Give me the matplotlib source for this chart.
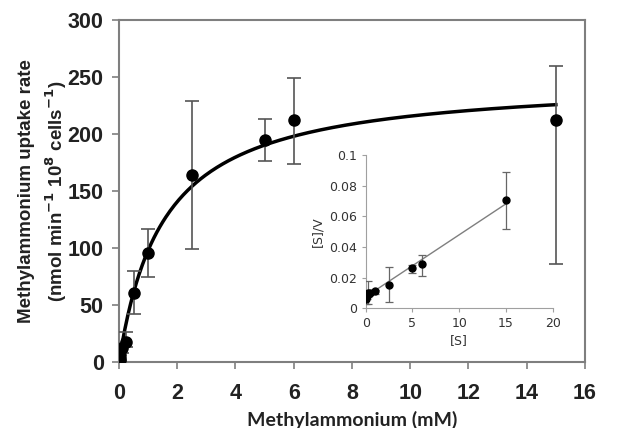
import matplotlib.pyplot as plt
import numpy as np

# Michaelis-Menten data (main panel)
conc = [0, 0.02, 0.05, 0.1, 0.25, 0.5, 1, 2.5, 5, 6, 15]
rate = [0, 2, 6, 12, 18, 61, 96, 164, 195, 212, 212]
rate_lo = [0, 1, 3, 4, 5, 19, 21, 65, 19, 38, 126]
rate_hi = [0, 2, 4, 5, 8, 19, 21, 65, 18, 37, 48]

# fitted parameters
vmax = 249
km = 1.54

# Hanes-Woolf inset data
s_inset = [0.02, 0.05, 0.1, 0.2, 0.25, 0.5, 1, 2.5, 5, 6, 15]
sv = [0.009, 0.006, 0.008, 0.010, 0.009, 0.010, 0.011, 0.015, 0.026, 0.029, 0.071]
sv_lo = [0.003, 0.003, 0.002, 0.007, 0.002, 0.001, 0.002, 0.011, 0.003, 0.008, 0.019]
sv_hi = [0.003, 0.003, 0.002, 0.008, 0.002, 0.001, 0.001, 0.012, 0.002, 0.006, 0.018]
fit_intercept = 0.0075
fit_slope = 0.00405

fig = plt.figure(figsize=(6.23, 4.28), dpi=100)
ax = fig.add_axes([0.191, 0.154, 0.748, 0.799])

xs = np.linspace(0, 15, 300)
ax.plot(xs, vmax * xs / (km + xs), color="black", lw=2.5, zorder=2)
ax.errorbar(conc, rate, yerr=[rate_lo, rate_hi], fmt="o", color="black",
            ms=8, ecolor="#555555", elinewidth=1.2, capsize=5, capthick=1.2, zorder=3)

ax.set_xlim(0, 16)
ax.set_ylim(0, 300)
ax.set_xticks(range(0, 17, 2))
ax.set_yticks(range(0, 301, 50))
for s in ax.spines.values():
    s.set_color("#7f7f7f")
    s.set_linewidth(1.5)
ax.tick_params(direction="out", length=5, width=1.2, color="#7f7f7f",
               labelsize=15.5, labelcolor="#222222")
ax.tick_params(axis="x", pad=10)
ax.tick_params(axis="y", pad=6)
for lab in ax.get_xticklabels() + ax.get_yticklabels():
    lab.set_fontfamily("Liberation Sans")
    lab.set_fontweight("bold")

fig.text(0.566, 0.018, "Methylammonium (mM)", fontsize=14, fontweight="bold",
         family="Lato", color="#222222", ha="center", va="center")
fig.text(0.070, 0.554,
         "Methylammonium uptake rate\n(nmol min$^{\\mathbf{-1}}$ 10$^{\\mathbf{8}}$ cells$^{\\mathbf{-1}}$)",
         fontsize=13.5, fontweight="bold", family="Liberation Sans", color="#222222",
         rotation=90, ha="center", va="center", multialignment="center", linespacing=1.45)

# inset
ins = fig.add_axes([0.587, 0.280, 0.300, 0.357])
ins.plot([0, 15], [fit_intercept, fit_intercept + fit_slope * 15],
         color="#7f7f7f", lw=1, zorder=2)
ins.errorbar(s_inset, sv, yerr=[sv_lo, sv_hi], fmt="o", color="black",
             ms=5, ecolor="#666666", elinewidth=0.9, capsize=3, capthick=0.9, zorder=3)
ins.set_xlim(0, 20)
ins.set_ylim(0, 0.1)
ins.set_xticks([0, 5, 10, 15, 20])
ins.set_yticks([0, 0.02, 0.04, 0.06, 0.08, 0.1])
ins.set_yticklabels(["0", "0.02", "0.04", "0.06", "0.08", "0.1"])
ins.spines["top"].set_visible(False)
ins.spines["right"].set_visible(False)
for side in ["left", "bottom"]:
    ins.spines[side].set_color("#a0a0a0")
ins.tick_params(direction="out", length=3, color="#a0a0a0",
                labelsize=9, labelcolor="#333333")
ins.set_xlabel("[S]", fontsize=9, color="#333333", labelpad=3)
ins.set_ylabel("[S]/V", fontsize=9, color="#333333", labelpad=3)
ins.patch.set_alpha(0)

fig.savefig("out.png", dpi=100)
